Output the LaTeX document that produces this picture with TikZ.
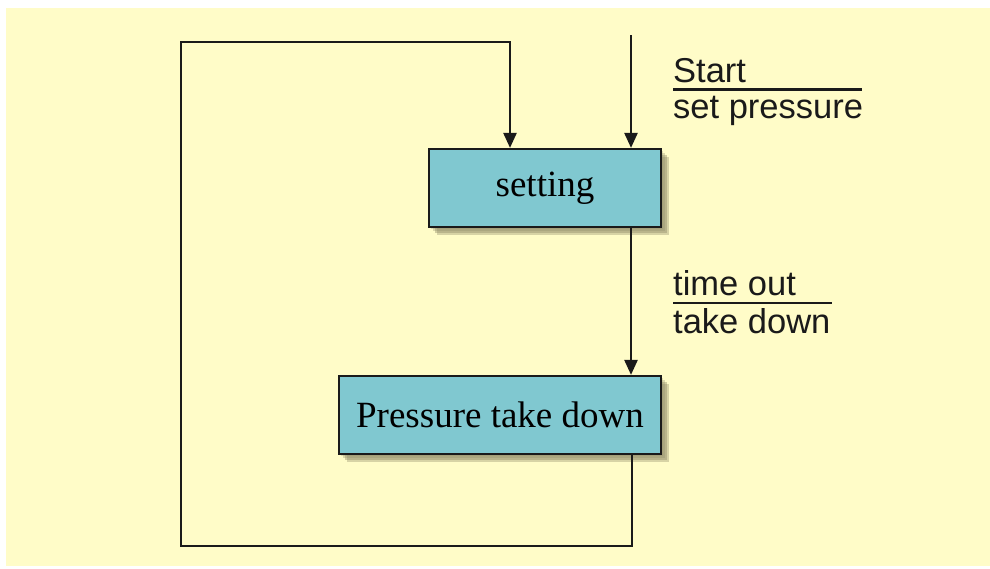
\documentclass[tikz,border=0pt]{standalone}
\usepackage{fontspec}
\setmainfont{Liberation Serif}
\setsansfont{Liberation Sans}
\usetikzlibrary{arrows.meta}
\definecolor{bgyellow}{HTML}{FFFCC8}
\definecolor{boxfill}{HTML}{80C8D0}
\definecolor{shadowc}{HTML}{8E8866}
\definecolor{linec}{HTML}{1A1A1A}
\begin{document}
\begin{tikzpicture}[x=1pt,y=-1pt,
  statebox/.style={draw=linec, line width=2.2pt, fill=boxfill, minimum height=78pt, inner sep=0pt,
    font=\fontsize{37}{40}\selectfont},
  conn/.style={draw=linec, line width=2.4pt},
  arr/.style={conn, -{Triangle[width=13pt,length=15pt]}},
  lbl/.style={anchor=base west, inner sep=0pt, font=\sffamily\fontsize{34.5}{40}\selectfont, text=linec}
]
\useasboundingbox (0,0) rectangle (990,568);
\fill[bgyellow] (6,8) rectangle (990,566);
% shadows
\foreach \o/\op in {2/0.25,4/0.3,6/0.4,8/0.35}{
  \fill[shadowc, opacity=\op] (429+\o,149+\o) rectangle (661+\o,227+\o);
  \fill[shadowc, opacity=\op] (339+\o,376+\o) rectangle (661+\o,454+\o);
}
\node[statebox, minimum width=232pt] (set) at (545,188) {setting};
\node[statebox, minimum width=322pt] (ptd) at (500,415) {Pressure take down};
\coordinate (start) at (631,35);
\coordinate (br) at (632,546);
\coordinate (bl) at (181,546);
\coordinate (tl) at (181,42);
\coordinate (tr) at (510,42);
\draw[arr] (start) -- (start |- set.north);
\draw[arr] (set.south -| start) -- (ptd.north -| start);
\draw[arr] (ptd.south -| br) -- (br) -- (bl) -- (tl) -- (tr) -- (tr |- set.north);
\node[lbl] (l1) at (673,82) {Start};
\node[lbl] (l2) at (673,118) {set pressure};
\draw[linec, line width=2.2pt] (673,89.5) -- (862,89.5);
\node[lbl] (l3) at (673,295) {time out};
\node[lbl] (l4) at (673,333) {take down};
\draw[linec, line width=2.2pt] (673,303) -- (832,303);
\end{tikzpicture}
\end{document}
